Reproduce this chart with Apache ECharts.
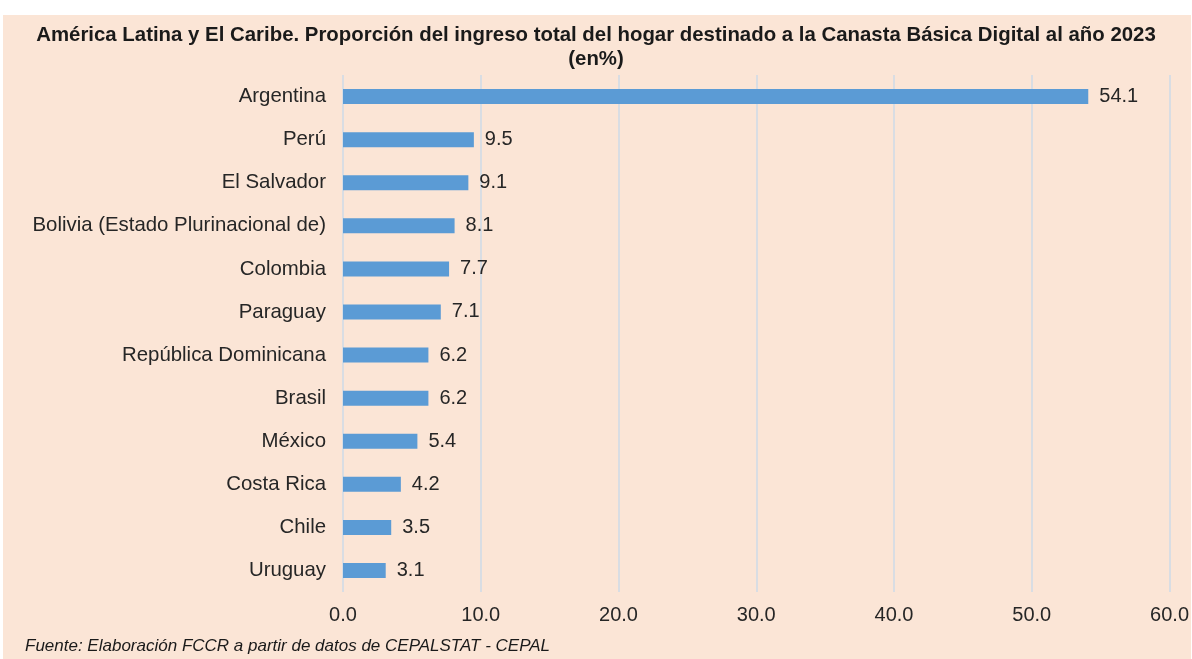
<!DOCTYPE html>
<html>
<head>
<meta charset="utf-8">
<script src="https://cdn.jsdelivr.net/npm/echarts@6/dist/echarts.min.js"></script>
<style>
html, body { margin: 0; padding: 0; background: #fff; }
#fondo { position: absolute; left: 3px; top: 15px; width: 1188px; height: 644px; background: #fbe5d6; }
#main { position: absolute; left: 0; top: 0; width: 1192px; height: 659px; }
</style>
</head>
<body>
<div id="fondo"></div>
<div id="main"></div>
<script>
	/*datos del gráfico*/
	var paises = ['Argentina', 'Perú', 'El Salvador', 'Bolivia (Estado Plurinacional de)', 'Colombia', 'Paraguay',
		'República Dominicana', 'Brasil', 'México', 'Costa Rica', 'Chile', 'Uruguay'];
	var valores = [54.1, 9.5, 9.1, 8.1, 7.7, 7.1, 6.2, 6.2, 5.4, 4.2, 3.5, 3.1];
	var ejeMin = 0;
	var ejeMax = 60;
	var ejePaso = 10;

	var titulo = 'América Latina y El Caribe. Proporción del ingreso total del hogar destinado a la Canasta Básica Digital al año 2023\n(en%)';
	var fuente = 'Fuente: Elaboración FCCR a partir de datos de CEPALSTAT - CEPAL';

	var myChart = echarts.init(document.getElementById('main'));
	var option = {
		backgroundColor: 'transparent',
		animation: false,
		title: {
			text: titulo,
			left: 'center',
			top: 18,
			textStyle: {
				fontFamily: 'Liberation Sans',
				fontSize: 20.4,
				fontWeight: 'bold',
				color: '#1a1a1a',
				lineHeight: 24
			}
		},
		graphic: [{
			type: 'text',
			left: 25,
			top: 638,
			style: {
				text: fuente,
				fontFamily: 'Liberation Sans',
				fontStyle: 'italic',
				fontSize: 17,
				fill: '#1a1a1a'
			}
		}],
		grid: {
			left: 343,
			right: 21,
			top: 75,
			bottom: 67,
			containLabel: false
		},
		xAxis: {
			type: 'value',
			min: ejeMin,
			max: ejeMax,
			interval: ejePaso,
			axisLine: { show: false },
			axisTick: { show: false },
			splitLine: { lineStyle: { color: '#d9dde3', width: 2 } },
			axisLabel: {
				margin: 13,
				fontFamily: 'Liberation Sans',
				fontSize: 20,
				color: '#262626',
				formatter: function(v) { return v.toFixed(1); }
			}
		},
		yAxis: {
			type: 'category',
			inverse: true,
			data: paises,
			axisLine: { show: false },
			axisTick: { show: false },
			axisLabel: {
				margin: 17,
				fontFamily: 'Liberation Sans',
				fontSize: 20.4,
				color: '#262626'
			}
		},
		series: [{
			type: 'bar',
			data: valores,
			barWidth: 15,
			itemStyle: { color: '#5b9bd5' },
			label: {
				show: true,
				position: 'right',
				distance: 11,
				fontFamily: 'Liberation Sans',
				fontSize: 20,
				color: '#262626',
				formatter: function(p) { return p.value.toFixed(1); }
			}
		}]
	};
	myChart.setOption(option);
</script>
</body>
</html>
